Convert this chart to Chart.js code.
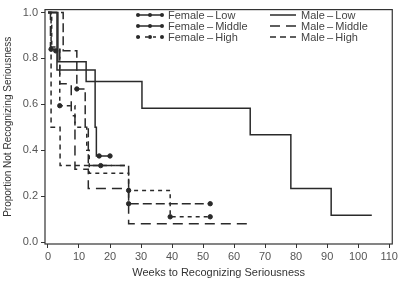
<!DOCTYPE html>
<html>
<head>
<meta charset="utf-8">
<script src="https://cdn.jsdelivr.net/npm/chart.js@4"></script>
<style>
  html, body { margin: 0; padding: 0; background: #fff; }
  #wrap { width: 400px; height: 283px; }
</style>
</head>
<body>
<div id="wrap"><canvas id="kmChart"></canvas></div>
<script>
// Kaplan-Meier curves, [week, proportion] at each step
const femaleLow = [[0, 1], [2.9, 0.75], [15.2, 0.5], [15.6, 0.375], [20, 0.375]];
const femaleMiddle = [[0, 1], [4.9, 0.833], [9.3, 0.667], [12, 0.5], [13, 0.333], [26, 0.167], [52.3, 0.167]];
const femaleHigh = [[0, 1], [1.2, 0.84], [3.8, 0.594], [8.7, 0.5], [12.5, 0.4], [13.3, 0.3], [26, 0.225], [39.4, 0.11], [52.3, 0.11]];
const maleLow = [[0, 1], [3.2, 0.786], [12.3, 0.7], [30.3, 0.583], [65.2, 0.467], [78.3, 0.233], [91.3, 0.117], [104.4, 0.117]];
const maleMiddle = [[0, 1], [0.8, 0.85], [3.8, 0.69], [7.5, 0.55], [8.7, 0.317], [13, 0.233], [26, 0.08], [65, 0.08]];
const maleHigh = [[0, 1], [1, 0.5], [3.9, 0.333], [25, 0.333]];

// censoring marks (female groups)
const censorFemaleLow = [[16.5, 0.375], [20, 0.375]];
const censorFemaleMiddle = [[2.5, 0.833], [9.3, 0.667], [17, 0.333], [26, 0.167], [52.3, 0.167]];
const censorFemaleHigh = [[1, 0.84], [3.8, 0.594], [26, 0.225], [39.4, 0.11], [52.3, 0.11]];

const xTicks = [0, 10, 20, 30, 40, 50, 60, 70, 80, 90, 100, 110];
const yTicks = [0, 0.2, 0.4, 0.6, 0.8, 1.0];

const legendItems = [
    { text: 'Female\u2009\u2013\u2009Low', dash: [], dots: true, col: 0, row: 0 },
    { text: 'Female\u2009\u2013\u2009Middle', dash: [], dots: true, col: 0, row: 1 },
    { text: 'Female\u2009\u2013\u2009High', dash: [3, 5], dots: true, col: 0, row: 2 },
    { text: 'Male\u2009\u2013\u2009Low', dash: [], dots: false, col: 1, row: 0 },
    { text: 'Male\u2009\u2013\u2009Middle', dash: [10, 6], dots: false, col: 1, row: 1 },
    { text: 'Male\u2009\u2013\u2009High', dash: [6, 4], dots: false, col: 1, row: 2 },
];

const ink = '#2a2a2a';
const toXY = arr => arr.map(p => ({ x: p[0], y: p[1] }));

function stepSet(pts, dash) {
    return {
        type: 'line',
        data: toXY(pts),
        stepped: true,
        borderColor: ink,
        borderWidth: 1.5,
        borderDash: dash,
        pointRadius: 0,
        fill: false,
    };
}
function dotSet(pts) {
    return {
        type: 'scatter',
        data: toXY(pts),
        pointRadius: 2.2,
        pointBackgroundColor: ink,
        pointBorderColor: ink,
        showLine: false,
    };
}

// frame round the plot + two-column legend
const framePlugin = {
    id: 'frame',
    afterDatasetsDraw(chart) {
        const ctx = chart.ctx;
        const a = chart.chartArea;
        ctx.save();
        ctx.strokeStyle = '#333';
        ctx.lineWidth = 1.2;
        ctx.strokeRect(a.left, a.top, a.right - a.left, a.bottom - a.top);

        ctx.font = '11px "Liberation Sans", Arial, sans-serif';
        ctx.textBaseline = 'middle';
        legendItems.forEach(it => {
            const x0 = it.col === 0 ? 137 : 270;
            const y = 15 + it.row * 11;
            ctx.strokeStyle = ink;
            ctx.lineWidth = 1.5;
            ctx.setLineDash(it.dash);
            ctx.beginPath();
            ctx.moveTo(x0, y);
            ctx.lineTo(x0 + 26, y);
            ctx.stroke();
            ctx.setLineDash([]);
            if (it.dots) {
                ctx.fillStyle = ink;
                [x0 + 1, x0 + 13, x0 + 25].forEach(dx => {
                    ctx.beginPath();
                    ctx.arc(dx, y, 2, 0, Math.PI * 2);
                    ctx.fill();
                });
            }
            ctx.fillStyle = '#444';
            ctx.fillText(it.text, x0 + 31, y + 1);
        });
        ctx.restore();
    }
};

new Chart(document.querySelector('#kmChart'), {
    data: {
        datasets: [
            stepSet(femaleLow, []),
            stepSet(femaleMiddle, [9, 4]),
            stepSet(femaleHigh, [4, 4]),
            stepSet(maleLow, []),
            stepSet(maleMiddle, [10, 6]),
            stepSet(maleHigh, [5, 4]),
            dotSet(censorFemaleLow),
            dotSet(censorFemaleMiddle),
            dotSet(censorFemaleHigh),
        ],
    },
    options: {
        responsive: true,
        maintainAspectRatio: false,
        animation: false,
        layout: { padding: { top: 3, right: 7, left: 0, bottom: 0 } },
        plugins: {
            legend: { display: false },
            tooltip: { enabled: false },
        },
        scales: {
            x: {
                type: 'linear',
                min: -0.96,
                max: 111,
                afterBuildTicks: s => { s.ticks = xTicks.map(v => ({ value: v })); },
                afterFit: s => { s.height = 39; },
                grid: { display: true, drawOnChartArea: false, tickLength: 4, color: '#333' },
                border: { display: false },
                ticks: {
                    color: '#555',
                    padding: 2,
                    maxRotation: 0,
                    font: { family: '"Liberation Sans", Arial, sans-serif', size: 11 },
                },
                title: {
                    display: true,
                    text: 'Weeks to Recognizing Seriousness',
                    color: '#333',
                    padding: { top: 0, bottom: 3 },
                    font: { family: '"Liberation Sans", Arial, sans-serif', size: 11 },
                },
            },
            y: {
                type: 'linear',
                min: -0.0085,
                max: 1.0127,
                afterBuildTicks: s => { s.ticks = yTicks.map(v => ({ value: v })); },
                afterFit: s => { s.width = 45; },
                grid: { display: true, drawOnChartArea: false, tickLength: 4, color: '#333' },
                border: { display: false },
                ticks: {
                    color: '#555',
                    padding: 3,
                    callback: v => v.toFixed(1),
                    font: { family: '"Liberation Sans", Arial, sans-serif', size: 11 },
                },
                title: {
                    display: true,
                    text: 'Proportion Not Recognizing Seriousness',
                    color: '#333',
                    padding: { top: 2, bottom: 0 },
                    font: { family: '"Liberation Sans", Arial, sans-serif', size: 10 },
                },
            },
        },
    },
    plugins: [framePlugin],
});
</script>
</body>
</html>
